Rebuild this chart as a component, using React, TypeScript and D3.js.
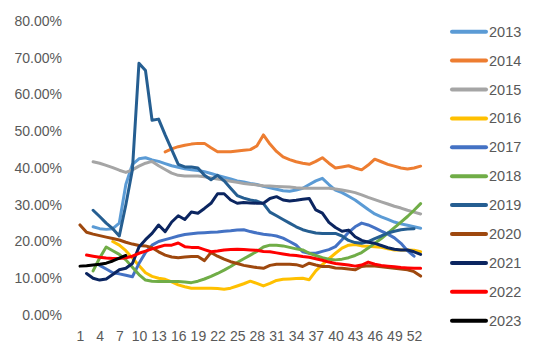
import React from 'react';
import * as d3 from 'd3';

// weeks on the category axis (53 points, labels every third week)
const weeks: number[] = d3.range(1, 54);
const weekLabels: number[] = [1, 4, 7, 10, 13, 16, 19, 22, 25, 28, 31, 34, 37, 40, 43, 46, 49, 52];
const yTicks: number[] = [0, 10, 20, 30, 40, 50, 60, 70, 80];

// place a run of values starting at a given week, rest is empty
const span = (start: number, vals: number[]): (number | null)[] =>
  weeks.map((w) => (w >= start && w - start < vals.length ? vals[w - start] : null));

const y2013 = span(3, [24, 23.5, 23.3, 23.5, 25, 35.5, 41, 42.5, 42.8, 42.2, 41.8, 41.2, 40.6, 40.2, 39.8, 39.5, 39.3, 39, 38.5, 38, 37.5, 37, 36.5, 36.2, 35.8, 35.5, 35, 34.6, 34.2, 33.8, 33.7, 34, 34.5, 35.5, 36.5, 37.2, 35.5, 34, 33.3, 32.3, 31.3, 30, 28.7, 27.5, 26.7, 26, 25.3, 24.8, 24.4, 24, 23.6]);
const y2014 = span(14, [44.4, 45.2, 45.8, 46.2, 46.5, 46.7, 46.7, 45.5, 44.4, 44.4, 44.4, 44.6, 44.8, 45, 46, 49, 46.5, 44.5, 43, 42.3, 41.7, 41.3, 41, 41.8, 42.8, 41.3, 40, 40.3, 40.6, 40, 39.5, 40.8, 42.4, 41.7, 41, 40.5, 40, 39.7, 40, 40.5]);
const y2015 = span(3, [41.7, 41.3, 40.7, 40.1, 39.4, 38.8, 39.5, 40.5, 41.3, 41.8, 40.6, 39.6, 38.6, 38, 37.8, 37.8, 37.8, 37.6, 37.3, 37, 36.7, 36.4, 36.1, 35.8, 35.6, 35.4, 35.2, 35.1, 35, 34.9, 34.8, 34.6, 34.5, 34.5, 34.5, 34.5, 34.5, 34.3, 34, 33.7, 33.3, 32.7, 32, 31.4, 30.8, 30.2, 29.6, 29.1, 28.5, 28, 27.5]);
const y2016 = span(6, [20, 19, 17.5, 15.5, 13.5, 11.5, 10.5, 10, 9.7, 9, 8.2, 7.7, 7.3, 7.3, 7.3, 7.3, 7.2, 7, 7.3, 7.9, 8.5, 9.2, 8.6, 7.9, 8.6, 9.4, 9.7, 9.8, 9.9, 10, 9.6, 12, 13.7, 15.3, 16.8, 18.2, 19, 19.2, 18.8, 18.7, 18.6, 18.4, 18, 17.7, 17.7, 17.7, 17.6, 17.2]);
const y2017 = span(4, [13.5, 12.5, 11.5, 11.2, 10.8, 10.4, 14, 17, 19, 20, 20.5, 21, 21.5, 21.9, 22.1, 22.3, 22.4, 22.5, 22.6, 22.8, 22.9, 23.1, 23.2, 22.7, 22.3, 22, 21.8, 21.5, 20.9, 20, 19, 17.2, 16.8, 16.8, 17.3, 17.8, 18.6, 20.5, 22.5, 24, 25, 24.5, 23.7, 22.8, 22, 21, 19.5, 17.5, 16]);
const y2018 = span(3, [12, 15.5, 18.5, 17.5, 16.5, 15, 13, 11, 9.5, 9.2, 9.1, 9.1, 9.1, 9.1, 9, 8.8, 9.2, 9.8, 10.5, 11.3, 12.2, 13.2, 14.3, 15.3, 16.3, 17.3, 18.5, 19, 19, 18.8, 18.4, 18, 17.7, 16.8, 16.2, 15.6, 15.2, 15, 15.2, 15.6, 16.2, 17, 18.2, 19.5, 20.8, 22.3, 23.8, 25.3, 26.8, 28.5, 30.3]);
const y2019 = span(3, [28.5, 26.8, 25, 23.5, 21.5, 30, 39.5, 68.5, 66.5, 53, 53.3, 49, 45, 41, 40.3, 40.3, 40, 38, 36.8, 38, 36.5, 34.5, 32.5, 31.8, 31.3, 31, 30.3, 28, 27, 26, 25, 24, 23.2, 22.7, 22.3, 22.2, 22.2, 22.2, 21.5, 20.3, 19.7, 19.5, 20, 20.8, 21.5, 22.3, 22.8, 23.2, 23.4, 23.5]);
const y2020 = span(1, [24.5, 22.5, 22, 21.6, 21.2, 20.8, 20.4, 19.8, 19.3, 18.9, 18.8, 18.3, 17.2, 16.3, 15.8, 15.6, 15.8, 15.9, 15.9, 14.8, 17, 16, 15.2, 14.5, 14, 13.5, 13.2, 12.9, 12.7, 13.5, 13.8, 13.8, 13.8, 13.7, 13.2, 14.1, 13.6, 13.2, 13.2, 12.8, 12.7, 12.5, 12.3, 13.2, 13.4, 13.3, 13.1, 12.9, 12.7, 12.5, 12.3, 11.8, 10.6]);
const y2021 = span(2, [11.3, 10, 9.5, 9.8, 11, 12.3, 12.7, 14, 18.5, 20.5, 22.2, 24.5, 22.7, 25.3, 27, 26, 28, 27.7, 29, 30.4, 33, 33, 31.3, 30.4, 30.6, 30.5, 30.4, 30.4, 31.7, 32.2, 31.3, 31, 31.2, 31.5, 31.7, 28.6, 27.7, 25.2, 23.8, 22.8, 23.1, 21.3, 20.3, 19.8, 19.5, 18.9, 18.3, 17.9, 17.7, 17.7, 17.2, 16.5]);
const y2022 = span(2, [16.3, 16, 15.7, 15.5, 15.4, 15.4, 15.6, 16, 16.8, 17.4, 18, 18.5, 19, 19, 19.6, 18.6, 18.4, 18.4, 17.8, 17.2, 17.4, 17.7, 17.8, 17.9, 17.8, 17.7, 17.6, 17.3, 17.2, 16.9, 16.6, 16.3, 16.2, 15.9, 15.7, 15.3, 14.9, 14.4, 14, 13.8, 13.6, 13.3, 13.6, 14.4, 13.8, 13.5, 13.3, 13.1, 12.9, 12.8, 12.7, 12.7]);
const y2023 = span(1, [13.3, 13.4, 13.6, 13.8, 14.1, 14.7, 15.5, 16.2]);

const seriesNames = ['2013', '2014', '2015', '2016', '2017', '2018', '2019', '2020', '2021', '2022', '2023'];
const seriesValues = [y2013, y2014, y2015, y2016, y2017, y2018, y2019, y2020, y2021, y2022, y2023];
const seriesColors = ['#5B9BD5', '#ED7D31', '#A5A5A5', '#FFC000', '#4472C4', '#70AD47', '#255E91', '#9E480E', '#0B2560', '#FF0000', '#000000'];

let chartRef: any = null;

class App extends React.Component {
  componentDidMount() {
    const svg = d3.select(chartRef);
    svg.selectAll('*').remove();
    const font = '"Liberation Sans", Arial, sans-serif';
    const textColor = '#595959';

    // scales
    const xscale = d3.scalePoint<number>().domain(weeks).range([80, 420.6]);
    const yscale = d3.scaleLinear().domain([0, 80]).range([315, 21]);

    // y axis
    const yAxis = d3.axisLeft(yscale).tickValues(yTicks).tickSize(0).tickPadding(3)
      .tickFormat((d: any) => d.toFixed(2) + '%');
    const gy = svg.append('g').attr('transform', 'translate(65,0)').call(yAxis);
    gy.select('.domain').remove();
    gy.selectAll('text').attr('fill', textColor).style('font-family', font).style('font-size', '14px');

    // x axis
    const xAxis = d3.axisBottom(xscale).tickValues(weekLabels).tickSize(0).tickPadding(16);
    const gx = svg.append('g').attr('transform', 'translate(0,315)').call(xAxis);
    gx.select('.domain').remove();
    gx.selectAll('text').attr('fill', textColor).style('font-family', font).style('font-size', '14px');

    // lines
    const line = d3.line<number | null>()
      .defined((d) => d != null)
      .x((d, i) => xscale(weeks[i]) as number)
      .y((d) => yscale(d as number));

    seriesValues.forEach((vals, i) => {
      svg.append('path')
        .datum(vals)
        .attr('fill', 'none')
        .attr('stroke', seriesColors[i])
        .attr('stroke-width', 3)
        .attr('stroke-linejoin', 'round')
        .attr('stroke-linecap', 'round')
        .attr('d', line);
    });

    // legend
    const legend = svg.append('g');
    seriesNames.forEach((name, i) => {
      const y = 31.7 + i * 28.9;
      legend.append('line')
        .attr('x1', 452).attr('x2', 486).attr('y1', y).attr('y2', y)
        .attr('stroke', seriesColors[i]).attr('stroke-width', 4).attr('stroke-linecap', 'round');
      legend.append('text')
        .attr('x', 489).attr('y', y).attr('dy', '0.35em')
        .attr('fill', textColor)
        .style('font-family', font).style('font-size', '14.5px')
        .text(name);
    });
  }

  render() {
    return (
      <div style={{ position: 'absolute', left: 0, top: 0, width: 550, height: 359, background: '#fff' }}>
        <svg width={550} height={359} style={{ display: 'block' }} ref={(r) => (chartRef = r)} />
      </div>
    );
  }
}

export default App;
